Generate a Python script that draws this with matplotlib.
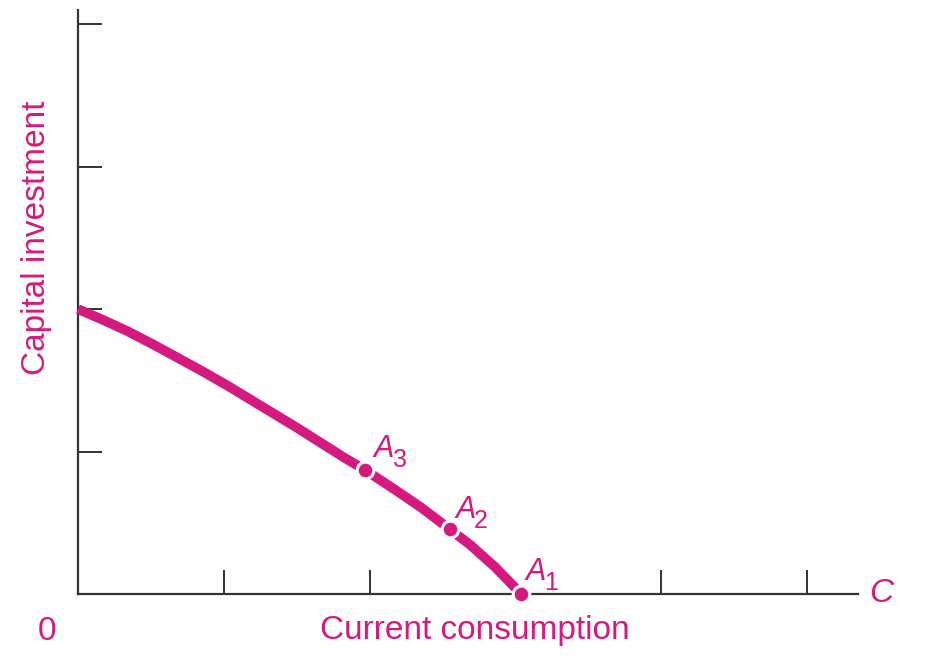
import matplotlib
matplotlib.use("Agg")
import matplotlib.pyplot as plt

plt.rcParams['font.family'] = ['Liberation Sans', 'DejaVu Sans']

# Data
curve_x = [0.0, 0.17, 0.34, 0.51, 0.69, 0.86, 1.03, 1.32, 1.49, 1.66, 1.83,
           1.97, 2.17, 2.35, 2.55, 2.69, 2.86, 3.04]
curve_y = [2.0, 1.925, 1.845, 1.755, 1.655, 1.56, 1.46, 1.28, 1.175, 1.065, 0.955,
           0.87, 0.735, 0.61, 0.455, 0.345, 0.19, 0.0]
point_letters = ['A', 'A', 'A']
point_subs = ['3', '2', '1']
point_x = [1.97, 2.55, 3.04]
point_y = [0.87, 0.455, 0.0]
x_ticks = [1, 2, 4, 5]
y_ticks = [1, 2, 3, 4]

PINK = '#D6197E'
AXC = '#333333'

fig = plt.figure(figsize=(9.25, 6.61), dpi=100)
ax = fig.add_axes([78/925, (661-594)/661, (858-78)/925, (594-10)/661])
ax.set_xlim(0, 5.35)
ax.set_ylim(0, 4.1)
for s in ['top', 'right']:
    ax.spines[s].set_visible(False)
for s in ['left', 'bottom']:
    ax.spines[s].set_color(AXC)
    ax.spines[s].set_linewidth(1.6)
ax.set_xticks(x_ticks)
ax.set_yticks(y_ticks)
ax.tick_params(direction='in', length=17, width=1.4, color=AXC,
               labelbottom=False, labelleft=False)

ax.plot(curve_x, curve_y, color=PINK, lw=7, solid_capstyle='butt',
        solid_joinstyle='round', zorder=3, clip_on=False)
ax.plot(point_x, point_y, 'o', color=PINK, ms=12, mec='white', mew=2.2,
        zorder=4, clip_on=False)

offsets = [(0.06, 0.09), (0.036, 0.078), (0.026, 0.098)]
for let, sub, x, y, (dx, dy) in zip(point_letters, point_subs, point_x, point_y, offsets):
    ax.annotate(let, (x + dx, y + dy), color=PINK, fontsize=22, style='italic',
                ha='left', va='baseline')
    ax.annotate(sub, (x + dx, y + dy), xytext=(13.7, -7.2), textcoords='offset points',
                color=PINK, fontsize=18, ha='left', va='baseline')

fig.text(475/925, 1 - 630/661, 'Current consumption', color=PINK, fontsize=24,
         ha='center', va='center')
fig.text(37/925, 1 - 238/661, 'Capital investment', color=PINK, fontsize=24,
         ha='center', va='center', rotation=90)
fig.text(47/925, 1 - 631/661, '0', color=PINK, fontsize=24, ha='center', va='center')
fig.text(881/925, 1 - 593/661, 'C', color=PINK, fontsize=24, ha='center', va='center',
         style='italic')

fig.savefig('out.png', dpi=100)
